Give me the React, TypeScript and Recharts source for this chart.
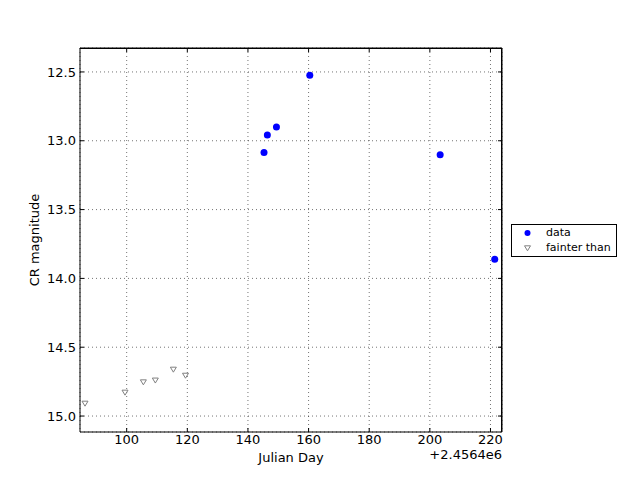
import React from 'react';
import { ScatterChart, Scatter, XAxis, YAxis, CartesianGrid, Label } from 'recharts';

// Julian Day offsets from 2456400
const detectJD = [145.3, 146.4, 149.4, 160.4, 203.4, 221.4];
const detectMag = [13.085, 12.958, 12.9, 12.524, 13.101, 13.86];
const limitJD = [86.25, 99.45, 105.5, 109.45, 115.4, 119.4];
const limitMag = [14.908, 14.828, 14.753, 14.74, 14.661, 14.705];
const xTicks = [100, 120, 140, 160, 180, 200, 220];
const yTicks = [12.5, 13.0, 13.5, 14.0, 14.5, 15.0];
const xDomain = [84.6, 223.8];
const yDomain = [12.326, 15.116];
const offsetText = '+2.4564e6';
const xLabel = 'Julian Day';
const yLabel = 'CR magnitude';
const legendNames = ['data', 'fainter than'];

const detectData = detectJD.map((x, i) => ({ x, y: detectMag[i] }));
const limitData = limitJD.map((x, i) => ({ x, y: limitMag[i] }));

const FONT = '"DejaVu Sans", sans-serif';

const Dot = (props: any) => <circle cx={props.cx} cy={props.cy} r={3.5} fill="#0000ff" />;
const Tri = (props: any) => {
  const { cx, cy } = props;
  return (
    <polygon
      points={`${cx - 3},${cy - 2.2} ${cx + 3},${cy - 2.2} ${cx},${cy + 2.8}`}
      fill="none"
      stroke="#808080"
      strokeWidth={1}
    />
  );
};

const tickStyle = { fill: '#000', fontSize: 13, fontFamily: FONT };

export default function App() {
  return (
    <div style={{ position: 'absolute', left: 0, top: 0, width: 640, height: 480, background: '#fff', fontFamily: FONT }}>
      <ScatterChart width={640} height={480} margin={{ top: 47, right: 137, bottom: 0, left: 0 }}>
        <CartesianGrid stroke="#000" strokeOpacity={0.55} strokeDasharray="1 3" xAxisId="b" yAxisId="l" />
        <XAxis
          xAxisId="b"
          type="number"
          dataKey="x"
          domain={xDomain}
          ticks={xTicks}
          allowDataOverflow
          height={48}
          tickSize={-4}
          tickMargin={7}
          tick={tickStyle}
          axisLine={{ stroke: '#000' }}
          tickLine={{ stroke: '#000' }}
        >
          <Label value={xLabel} position="insideBottom" offset={18} style={{ fill: '#000', fontSize: 13, fontFamily: FONT }} />
        </XAxis>
        <XAxis
          xAxisId="t"
          orientation="top"
          type="number"
          dataKey="x"
          domain={xDomain}
          ticks={xTicks}
          allowDataOverflow
          height={1}
          tickSize={-4}
          tickFormatter={() => ''}
          axisLine={{ stroke: '#000' }}
          tickLine={{ stroke: '#000' }}
        />
        <YAxis
          yAxisId="l"
          type="number"
          dataKey="y"
          domain={yDomain}
          ticks={yTicks}
          reversed
          allowDataOverflow
          width={80}
          tickSize={-4}
          tickMargin={8}
          tick={tickStyle}
          tickFormatter={(v: number) => v.toFixed(1)}
          axisLine={{ stroke: '#000' }}
          tickLine={{ stroke: '#000' }}
        >
          <Label value={yLabel} angle={-90} position="insideLeft" offset={34} style={{ fill: '#000', fontSize: 13, fontFamily: FONT, textAnchor: 'middle' }} />
        </YAxis>
        <YAxis
          yAxisId="r"
          orientation="right"
          type="number"
          dataKey="y"
          domain={yDomain}
          ticks={yTicks}
          reversed
          allowDataOverflow
          width={1}
          tickSize={-4}
          tickFormatter={() => ''}
          axisLine={{ stroke: '#000' }}
          tickLine={{ stroke: '#000' }}
        />
        <Scatter data={detectData} xAxisId="b" yAxisId="l" shape={Dot} isAnimationActive={false} />
        <Scatter data={limitData} xAxisId="b" yAxisId="l" shape={Tri} isAnimationActive={false} />
      </ScatterChart>
      <div style={{ position: 'absolute', left: 80, top: 48, width: 421, height: 383, borderTop: '1px solid #000', borderRight: '1px solid #000', pointerEvents: 'none' }} />
      <div style={{ position: 'absolute', left: 400, width: 102, top: 448, textAlign: 'right', fontSize: 13, lineHeight: '13px', color: '#000' }}>
        {offsetText}
      </div>
      <div style={{ position: 'absolute', left: 511, top: 224, width: 104, height: 31, border: '1px solid #000', background: '#fff', fontSize: 11, color: '#000' }}>
        <svg width={30} height={31} style={{ position: 'absolute', left: 0, top: 0 }}>
          <circle cx={15.5} cy={8} r={3} fill="#0000ff" />
          <polygon points="12.5,20.8 18.5,20.8 15.5,25.8" fill="none" stroke="#808080" strokeWidth={1} />
        </svg>
        <div style={{ position: 'absolute', left: 34, top: 1, lineHeight: '13px' }}>{legendNames[0]}</div>
        <div style={{ position: 'absolute', left: 34, top: 16, lineHeight: '13px' }}>{legendNames[1]}</div>
      </div>
    </div>
  );
}
